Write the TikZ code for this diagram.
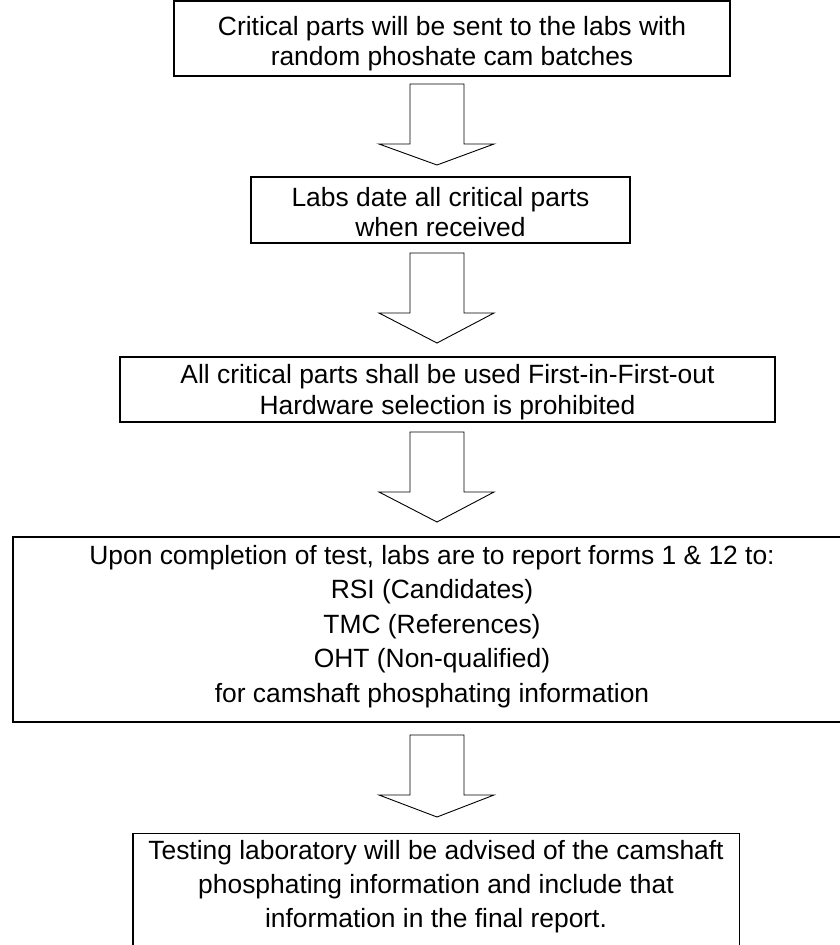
\documentclass[tikz,border=0pt]{standalone}
\usepackage{fontspec}
\setmainfont{Liberation Sans}
\usetikzlibrary{positioning}
\def\boxfont#1{\fontsize{26.4}{#1}\selectfont}

\begin{document}
\begin{tikzpicture}[x=1pt,y=-1pt,line width=1.4pt]
    \tikzstyle{stepbox}=[draw=black, align=center, inner sep=0pt, font=\boxfont{30}]
    \tikzstyle{bigarrow}=[draw=black, line width=0.9pt, fill=white, miter limit=20]

    \useasboundingbox (0,0) rectangle (840,945);
    \clip (0,0) rectangle (840,945);

    \node[stepbox, minimum width=556, minimum height=75] (sent) at (452,38.5)
        {\rule{0pt}{28.5pt}Critical parts will be sent to the labs with\\random phoshate cam batches};
    \node[stepbox, minimum width=379, minimum height=66] (dated) at (440.5,210)
        {\rule{0pt}{24pt}Labs date all critical parts\\when received};
    \node[stepbox, minimum width=655, minimum height=65, font=\boxfont{31}] (fifo) at (447.5,389.5)
        {\rule{0pt}{24pt}All critical parts shall be used First-in-First-out\\Hardware selection is prohibited};
    \node[stepbox, minimum width=838, minimum height=185, font=\boxfont{34.5}] (report) at (432,629.5)
        {Upon completion of test, labs are to report forms 1 \& 12 to:\\RSI (Candidates)\\TMC (References)\\OHT (Non-qualified)\\for camshaft phosphating information\rule[-12pt]{0pt}{0pt}};
    % last box runs off the page at the bottom
    \node[stepbox, draw=none, minimum width=605, minimum height=104.5, font=\boxfont{34}] (final) at (436,886.3)
        {Testing laboratory will be advised of the camshaft\\phosphating information and include that\\information in the final report.};
    \draw (final.west |- 0,970) -- (final.north west) -- (final.north east) -- (final.east |- 0,970);

    \foreach \top/\base/\tip in {84/144/165, 253/313/343, 432/492/522, 735/795/817}
        \draw[bigarrow] (410,\top) -- (464,\top) -- (464,\base) -- (494,\base) -- (437,\tip)
            -- (379,\base) -- (410,\base) -- cycle;
\end{tikzpicture}
\end{document}
